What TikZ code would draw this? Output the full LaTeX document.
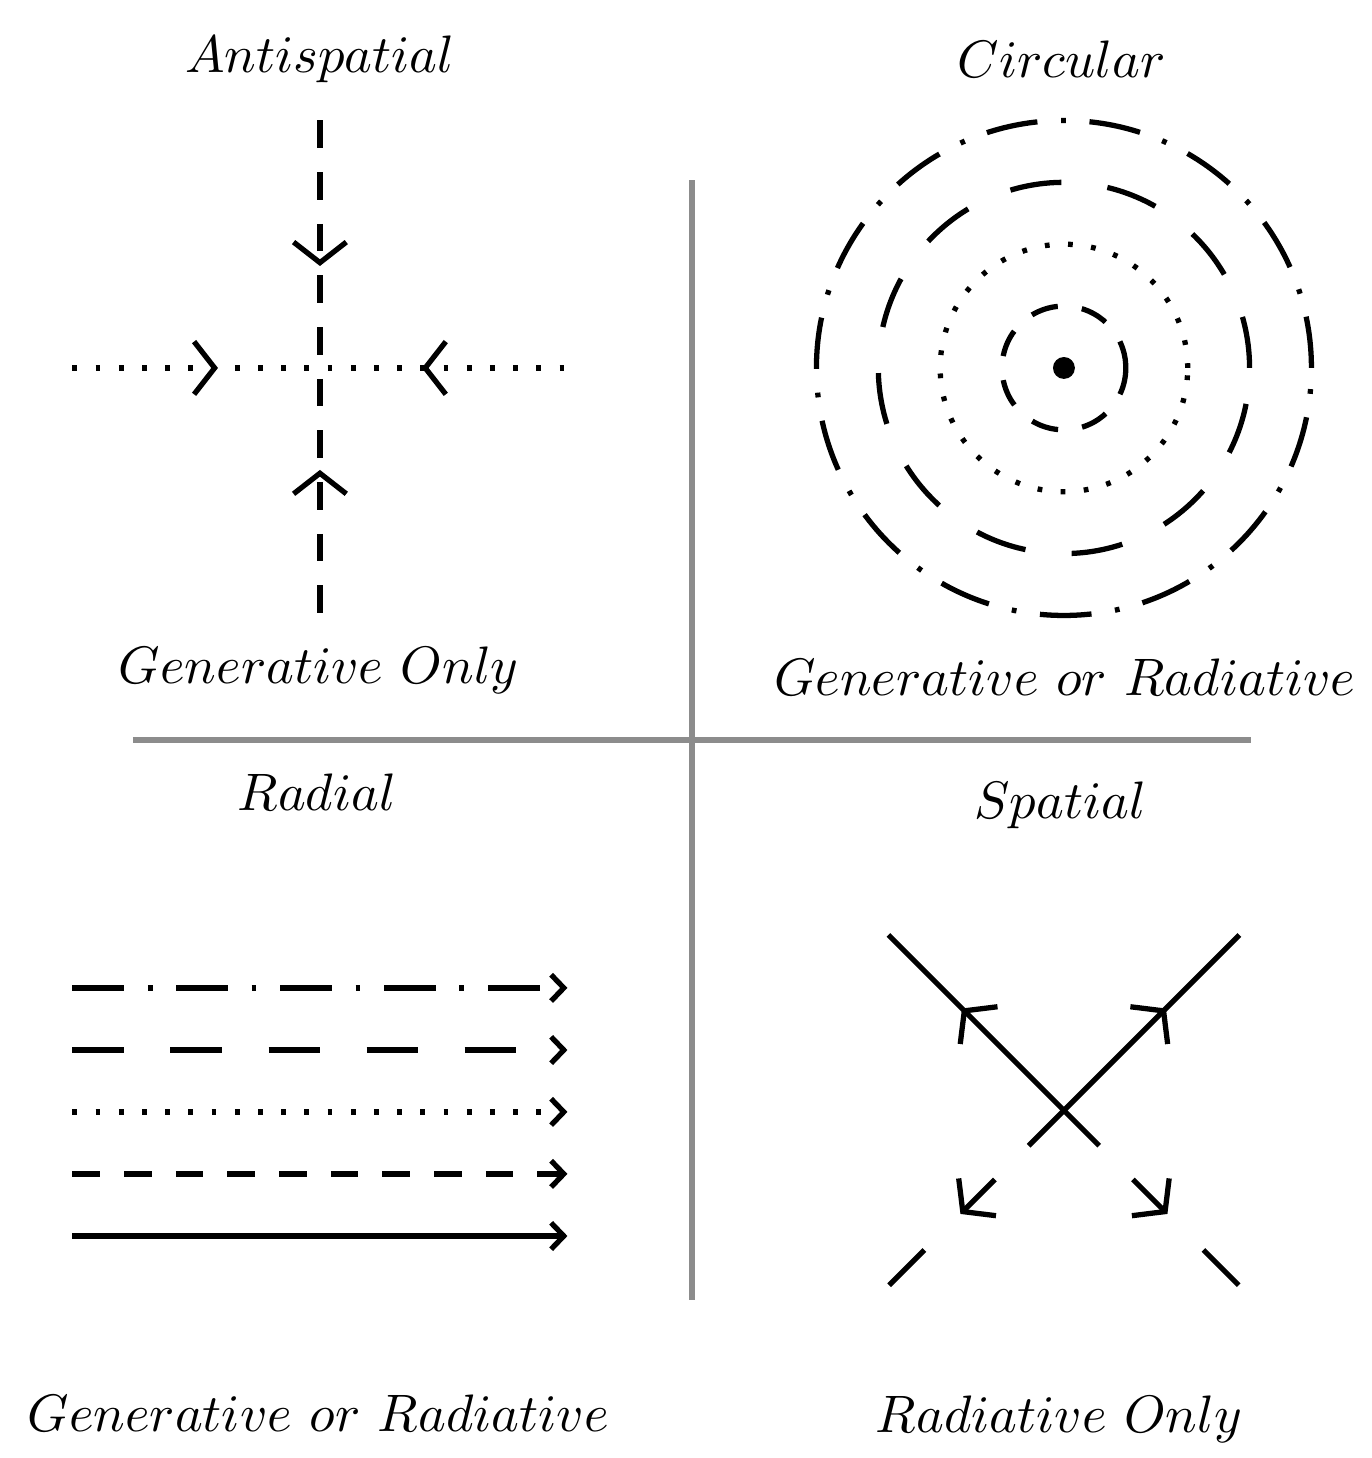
\documentclass[tikz,border=0pt]{standalone}
\usepackage{amsmath}
\usepackage{tikz}
\usetikzlibrary{arrows.meta,decorations.markings,calc}

\tikzset{
    bigbarb/.tip={Straight Barb[length=3.9pt,width=10pt]},
    smallbarb/.tip={Straight Barb[length=2.4pt,width=5pt]}
}

\begin{document}
\begin{tikzpicture}[
    line width=1pt,
    lbl/.style={inner sep=0pt},
    divider/.style={draw=black!45, line width=1pt},
    shortdash/.style={dash pattern=on 5.2pt off 4.6pt},
    longdash/.style={dash pattern=on 9.8pt off 8.8pt},
    dotline/.style={dash pattern=on 0.9pt off 3.5pt},
    dashdotline/.style={dash pattern=on 9.8pt off 4.5pt on 0.9pt off 4.5pt},
    twoin/.style 2 args={postaction={decorate}, decoration={markings,
        mark=at position #1 with {\arrow{bigbarb}},
        mark=at position #2 with {\arrowreversed{bigbarb}}}},
    backin/.style={postaction={decorate}, decoration={markings,
        mark=at position #1 with {\arrowreversed{bigbarb}}}}
]
\useasboundingbox (-4.613,-4.787) rectangle (4.533,4.933);

% quadrant centres
\coordinate (AS) at (-2.48,2.48);
\coordinate (CI) at (2.48,2.48);
\coordinate (RA) at (-2.48,-2.48);
\coordinate (SP) at (2.48,-2.47);

% dividers
\draw[divider] (0,3.733) -- (0,-3.733);
\draw[divider] (-3.727,0) -- (3.727,0);

% labels
\node[lbl] (astop) at (-2.48,4.54) {$Antispatial$};
\node[lbl] (asbot) at (-2.487,0.467) {$Generative\ Only$};
\node[lbl] (citop) at (2.465,4.54) {$Circular$};
\node[lbl] (cibot) at (2.487,0.42) {$Generative\ or\ Radiative$};
\node[lbl] (ratop) at (-2.5,-0.345) {$Radial$};
\node[lbl] (rabot) at (-2.49,-4.49) {$Generative\ or\ Radiative$};
\node[lbl] (sptop) at (2.455,-0.433) {$Spatial$};
\node[lbl] (spbot) at (2.447,-4.527) {$Radiative\ Only$};

% antispatial
\draw[shortdash, twoin={0.294}{0.706}] ($(AS)+(0,1.65)$) -- ($(AS)+(0,-1.65)$);
\draw[dotline, twoin={0.294}{0.706}] ($(AS)+(-1.65,0)$) -- ($(AS)+(1.65,0)$);

% circular
\foreach \r/\sty in {0.4125/shortdash, 0.825/dotline, 1.2375/longdash, 1.65/dashdotline}
  \draw[\sty] (CI) circle[radius=\r];
\fill (CI) circle[radius=0.073];

% radial
\foreach \dy/\sty in {0.827/dashdotline, 0.413/longdash, 0/dotline, -0.413/shortdash, -0.827/solid}
  \draw[-smallbarb, \sty] ($(RA)+(-1.65,\dy)$) -- ($(RA)+(1.65,\dy)$);

% spatial
\draw[backin=0.349] ($(SP)+(-1.17,1.17)$) -- ($(SP)+(0.235,-0.235)$);
\draw[backin=0.349] ($(SP)+(1.17,1.17)$) -- ($(SP)+(-0.235,-0.235)$);
\draw[-bigbarb] ($(SP)+(-0.46,-0.46)$) -- ($(SP)+(-0.69,-0.69)$);
\draw[-bigbarb] ($(SP)+(0.46,-0.46)$) -- ($(SP)+(0.69,-0.69)$);
\draw ($(SP)+(-0.93,-0.93)$) -- ($(SP)+(-1.165,-1.165)$);
\draw ($(SP)+(0.93,-0.93)$) -- ($(SP)+(1.165,-1.165)$);
\end{tikzpicture}
\end{document}
